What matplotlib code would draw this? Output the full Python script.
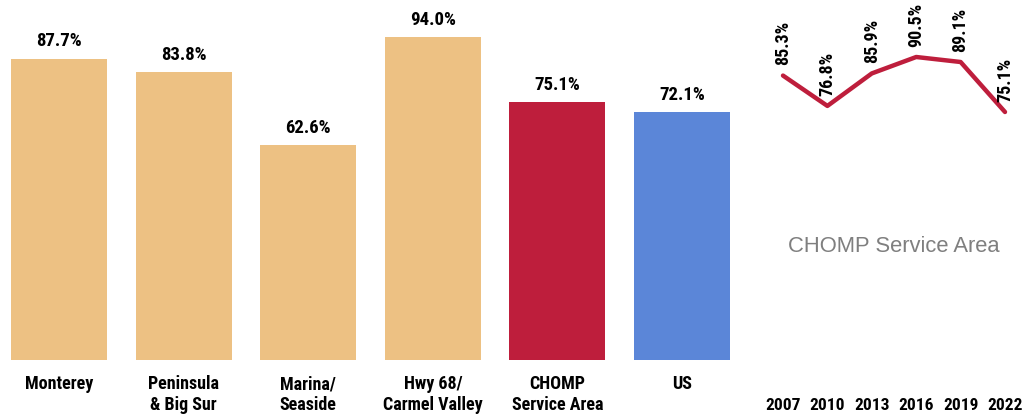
import matplotlib
import matplotlib.pyplot as plt

matplotlib.use("agg")

plt.rcParams["font.family"] = ["Roboto Condensed", "Liberation Sans", "DejaVu Sans"]

# bar chart data
areas = ["Monterey", "Peninsula\n& Big Sur", "Marina/\nSeaside", "Hwy 68/\nCarmel Valley",
         "CHOMP\nService Area", "US"]
area_pct = [87.7, 83.8, 62.6, 94.0, 75.1, 72.1]
bar_colors = ["#EDC183", "#EDC183", "#EDC183", "#EDC183", "#BE1E3C", "#5B86D8"]

# trend data
years = ["2007", "2010", "2013", "2016", "2019", "2022"]
trend_pct = [85.3, 76.8, 85.9, 90.5, 89.1, 75.1]

W, H = 1032, 418
fig = plt.figure(figsize=(W / 100, H / 100), dpi=100)

# left: bars
ax1 = fig.add_axes([0, 1 - 360 / H, 740 / W, (360 - 16.4) / H])
x = list(range(len(areas)))
ax1.bar(x, area_pct, width=0.77, color=bar_colors)
for xi, v in zip(x, area_pct):
    ax1.annotate(f"{v:.1f}%", (xi, v), xytext=(0, 6), textcoords="offset points",
                 ha="center", va="bottom", fontsize=13.5, fontweight="bold")
ax1.set_xlim(-0.4735, 5.465)
ax1.set_ylim(0, 100)
ax1.set_xticks(x)
ax1.set_xticklabels(areas, fontsize=13, fontweight="bold", linespacing=1.2)
ax1.tick_params(axis="x", length=0, pad=11)
ax1.set_yticks([])
for s in ax1.spines.values():
    s.set_visible(False)

# right: trend line
bot_px = 397
ppu = 55 / 15.4
ax2 = fig.add_axes([760 / W, 1 - bot_px / H, 270 / W, bot_px / H])
xt = list(range(len(years)))
ax2.plot(xt, trend_pct, color="#BE1E3C", lw=3.2, solid_capstyle="round")
for xi, v in zip(xt, trend_pct):
    ax2.annotate(f"{v:.1f}%", (xi, v), xytext=(0, 7.5), textcoords="offset points",
                 ha="center", va="bottom", rotation=90, fontsize=13, fontweight="bold")
ax2.set_xlim(-23 / 44.4, 5 + 25 / 44.4)
ax2.set_ylim(75.1 - (bot_px - 112) / ppu, 75.1 + 112 / ppu)
ax2.set_xticks(xt)
ax2.set_xticklabels(years, fontsize=12.5, fontweight="bold")
ax2.tick_params(axis="x", length=0, pad=1)
ax2.set_yticks([])
for s in ax2.spines.values():
    s.set_visible(False)
ax2.set_facecolor("none")

fig.text(894 / W, 1 - 247 / H, "CHOMP Service Area", ha="center", va="center",
         fontsize=15.8, color="#7F7F7F", family=["Liberation Sans", "DejaVu Sans"])

plt.savefig("out.png", dpi=100)
